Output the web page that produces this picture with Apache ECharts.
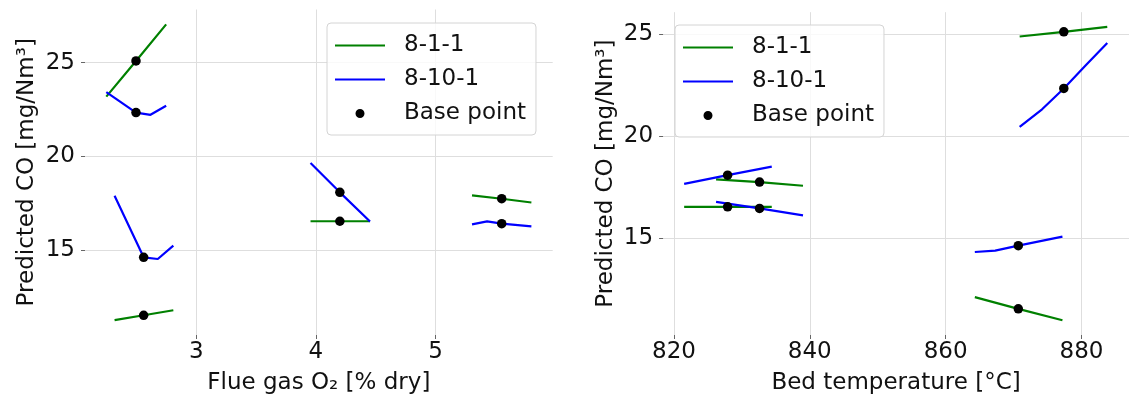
<!DOCTYPE html>
<html>
<head>
<meta charset="utf-8">
<script src="https://cdn.jsdelivr.net/npm/echarts@6/dist/echarts.min.js"></script>
<style>
html, body { margin: 0; padding: 0; background: #fff; }
#chart { width: 1129px; height: 400px; }
</style>
</head>
<body>
<div id="chart"></div>
<script>
// left panel: flue gas O2 sweeps, one [x, y] list per curve
const o2Green = [
  [[2.249, 23.19], [2.497, 25.09], [2.749, 27.04]],
  [[2.318, 11.28], [2.561, 11.54], [2.809, 11.81]],
  [[3.955, 16.55], [4.2, 16.55], [4.452, 16.55]],
  [[5.304, 17.93], [5.552, 17.75], [5.8, 17.55]]
];
const o2Blue = [
  [[2.249, 23.43], [2.497, 22.34], [2.618, 22.22], [2.749, 22.70]],
  [[2.318, 17.91], [2.561, 14.63], [2.679, 14.54], [2.809, 15.25]],
  [[3.955, 19.65], [4.2, 18.09], [4.452, 16.54]],
  [[5.304, 16.38], [5.43, 16.54], [5.552, 16.42], [5.8, 16.28]]
];
const o2Base = [
  [2.497, 25.09], [2.497, 22.34], [2.561, 14.63], [2.561, 11.54],
  [4.2, 18.09], [4.2, 16.55], [5.552, 17.75], [5.552, 16.42]
];

// right panel: bed temperature sweeps
const tempGreen = [
  [[870.9, 24.87], [877.4, 25.10], [883.8, 25.34]],
  [[864.3, 12.12], [870.7, 11.55], [877.2, 10.99]],
  [[826.2, 17.88], [832.6, 17.75], [839.0, 17.57]],
  [[821.5, 16.54], [827.9, 16.54], [834.4, 16.54]]
];
const tempBlue = [
  [[870.9, 20.45], [874.2, 21.31], [877.4, 22.33], [880.6, 23.45], [883.8, 24.55]],
  [[864.3, 14.33], [867.3, 14.40], [870.7, 14.64], [877.2, 15.08]],
  [[821.5, 17.66], [827.9, 18.09], [834.4, 18.51]],
  [[826.2, 16.78], [832.6, 16.46], [839.0, 16.12]]
];
const tempBase = [
  [877.4, 25.10], [877.4, 22.33], [870.7, 14.64], [870.7, 11.55],
  [827.9, 18.09], [832.6, 17.75], [827.9, 16.54], [832.6, 16.46]
];

const o2Ticks = [3, 4, 5];
const tempTicks = [820, 840, 860, 880];
const coTicks = [15, 20, 25];

const FONT = 'DejaVu Sans';
const GREEN = '#008000';
const BLUE = '#0000ff';

// legend icons: visible mark inside an invisible 64x9 box
const lineIcon = 'path://M0,3.4h50v2.2h-50z M63.99,0h.01v.01h-.01z M0,8.99h.01v.01h-.01z';
const dotIcon = 'path://M20.5,4.5a4.5,4.5 0 1,0 9,0a4.5,4.5 0 1,0 -9,0z M0,0h.01v.01h-.01z M63.99,8.99h.01v.01h-.01z';

function curves(list, name, color, idx) {
  return list.map(d => ({
    name: name,
    type: 'line',
    xAxisIndex: idx,
    yAxisIndex: idx,
    data: d,
    symbol: 'none',
    showSymbol: false,
    color: color,
    lineStyle: { color: color, width: 2.2 },
    emphasis: { disabled: true },
    z: 2
  }));
}

function dots(d, idx) {
  return {
    name: 'Base point',
    type: 'scatter',
    xAxisIndex: idx,
    yAxisIndex: idx,
    data: d,
    symbol: 'circle',
    symbolSize: 9.5,
    color: '#000',
    itemStyle: { color: '#000', opacity: 1 },
    emphasis: { disabled: true },
    z: 5
  };
}

function xAxis(idx, min, max, ticks, name) {
  return {
    gridIndex: idx,
    type: 'value',
    min: min,
    max: max,
    name: name,
    nameLocation: 'middle',
    nameGap: 37,
    nameTextStyle: { fontFamily: FONT, fontSize: 23, color: '#111' },
    axisLine: { show: false },
    axisTick: { show: true, length: 4, customValues: ticks, lineStyle: { color: '#666' } },
    axisLabel: { customValues: ticks, fontFamily: FONT, fontSize: 23, color: '#111', margin: 6 },
    splitLine: { show: true, lineStyle: { color: '#dedede', width: 1 } }
  };
}

function yAxis(idx, min, max) {
  return {
    gridIndex: idx,
    type: 'value',
    min: min,
    max: max,
    name: 'Predicted CO [mg/Nm³]',
    nameLocation: 'middle',
    nameGap: 46,
    nameTextStyle: { fontFamily: FONT, fontSize: 23, color: '#111' },
    axisLine: { show: false },
    axisTick: { show: true, length: 4, customValues: coTicks, lineStyle: { color: '#666' } },
    axisLabel: { customValues: coTicks, fontFamily: FONT, fontSize: 23, color: '#111', margin: 10 },
    splitLine: { show: true, lineStyle: { color: '#dedede', width: 1 } }
  };
}

function legend(left, top) {
  return {
    orient: 'vertical',
    left: left,
    top: top,
    itemWidth: 64,
    itemHeight: 9,
    itemGap: 11,
    padding: [11, 10, 10, 8],
    backgroundColor: 'rgba(255,255,255,0.8)',
    borderColor: '#d4d4d4',
    borderWidth: 1,
    borderRadius: 4,
    selectedMode: false,
    itemStyle: { borderWidth: 0, opacity: 1 },
    textStyle: { fontFamily: FONT, fontSize: 23, color: '#111' },
    data: [
      { name: '8-1-1', icon: lineIcon, itemStyle: { color: GREEN, borderWidth: 0, opacity: 1 } },
      { name: '8-10-1', icon: lineIcon, itemStyle: { color: BLUE, borderWidth: 0, opacity: 1 } },
      { name: 'Base point', icon: dotIcon, itemStyle: { color: '#000', borderWidth: 0, opacity: 1 } }
    ]
  };
}

const chart = echarts.init(document.getElementById('chart'), null, { renderer: 'canvas' });
chart.setOption({
  animation: false,
  backgroundColor: '#fff',
  grid: [
    { left: 85, top: 9.5, width: 467.7, height: 326 },
    { left: 663.1, top: 12.2, width: 468.4, height: 325.2 }
  ],
  xAxis: [
    xAxis(0, 2.071, 5.978, o2Ticks, 'Flue gas O₂ [% dry]'),
    xAxis(1, 818.4, 887.0, tempTicks, 'Bed temperature [°C]')
  ],
  yAxis: [
    yAxis(0, 10.49, 27.83),
    yAxis(1, 10.27, 26.06)
  ],
  legend: [legend(327, 23), legend(675, 25)],
  series: [].concat(
    curves(o2Green, '8-1-1', GREEN, 0),
    curves(o2Blue, '8-10-1', BLUE, 0),
    [dots(o2Base, 0)],
    curves(tempGreen, '8-1-1', GREEN, 1),
    curves(tempBlue, '8-10-1', BLUE, 1),
    [dots(tempBase, 1)]
  )
});
</script>
</body>
</html>
